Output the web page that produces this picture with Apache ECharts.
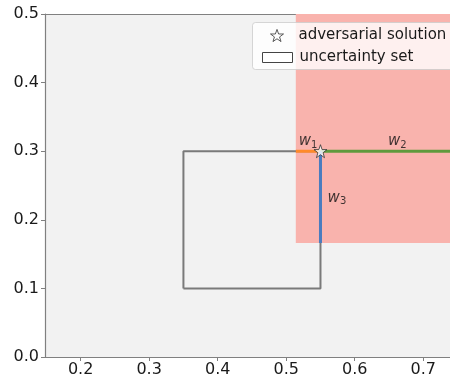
<!DOCTYPE html>
<html>
<head>
<meta charset="utf-8">
<script src="https://cdn.jsdelivr.net/npm/echarts@6/dist/echarts.min.js"></script>
<style>
  html, body { margin: 0; padding: 0; background: #fff; }
  #chart { width: 450px; height: 378px; }
</style>
</head>
<body>
<div id="chart"></div>
<script>
// Axis ranges and ticks
const xRange = [0.148, 0.739];
const yRange = [0.0, 0.5];
const xTicks = [0.2, 0.3, 0.4, 0.5, 0.6, 0.7];
const yTicks = [0.0, 0.1, 0.2, 0.3, 0.4, 0.5];

// Feasible (shaded) region: [xMin, yMin] -> [xMax, yMax]
const regionLow = [0.514, 0.166];
const regionHigh = [0.75, 0.5];

// Uncertainty set (box corners, closed loop)
const boxX = [0.35, 0.55, 0.55, 0.35, 0.35];
const boxY = [0.1, 0.1, 0.3, 0.3, 0.1];

// Adversarial solution
const solution = [0.55, 0.3];

// Segments w1, w2, w3
const w1X = [0.514, 0.55], w1Y = [0.3, 0.3];
const w2X = [0.55, 0.75],  w2Y = [0.3, 0.3];
const w3X = [0.55, 0.55],  w3Y = [0.166, 0.3];

// Segment labels: name, subscript, position
const segLabels = ['w', 'w', 'w'];
const segSubs = ['1', '2', '3'];
const segLabelX = [0.532, 0.662, 0.574];
const segLabelY = [0.314, 0.314, 0.232];

const zip = (xs, ys) => xs.map((x, i) => [x, ys[i]]);

const STAR = 'path://M50,2 L61.8,35.5 L97.6,35.5 L68.9,57 L79.4,91 L50,70.5 L20.6,91 L31.1,57 L2.4,35.5 L38.2,35.5 Z';

const font = 'DejaVu Sans';
const spine = '#808080';

const chart = echarts.init(document.getElementById('chart'), null, { renderer: 'canvas' });

chart.setOption({
  animation: false,
  backgroundColor: '#ffffff',
  grid: {
    left: 45, right: 0, top: 14, bottom: 21,
    show: true, backgroundColor: '#f2f2f2', borderWidth: 0
  },
  xAxis: [{
    type: 'value', min: xRange[0], max: xRange[1],
    splitLine: { show: false },
    axisLine: { show: true, onZero: false, lineStyle: { color: spine, width: 1.2 } },
    axisLabel: {
      margin: 5, color: '#1a1a1a', fontFamily: font, fontSize: 16,
      customValues: xTicks, formatter: v => v.toFixed(1)
    },
    axisTick: { show: true, length: 4, lineStyle: { color: spine }, customValues: xTicks }
  }, {
    type: 'value', position: 'top', min: xRange[0], max: xRange[1],
    splitLine: { show: false },
    axisLine: { show: true, onZero: false, lineStyle: { color: spine, width: 1.2 } },
    axisTick: { show: false }, axisLabel: { show: false }
  }],
  yAxis: {
    type: 'value', min: yRange[0], max: yRange[1], interval: 0.1,
    splitLine: { show: false },
    axisLine: { show: true, onZero: false, lineStyle: { color: spine, width: 1.2 } },
    axisTick: { show: true, length: 4, lineStyle: { color: spine } },
    axisLabel: {
      margin: 6, color: '#1a1a1a', fontFamily: font, fontSize: 16,
      customValues: yTicks, formatter: v => v.toFixed(1)
    }
  },
  graphic: [{
    type: 'rect', left: 252, top: 22, z: 50,
    shape: { width: 210, height: 47, r: 3 },
    style: { fill: 'rgba(255,255,255,0.8)', stroke: 'rgba(204,204,204,0.8)', lineWidth: 1 }
  }],
  legend: [{
    data: [{ name: 'adversarial solution', icon: STAR,
             itemStyle: { color: '#ffffff', borderColor: '#333', borderWidth: 1 } }],
    left: 265, top: 23, itemWidth: 13, itemHeight: 13, z: 60,
    textStyle: { fontFamily: font, fontSize: 15, color: '#1a1a1a', padding: [0, 0, 0, 10] }
  }, {
    data: [{ name: 'uncertainty set', icon: 'rect',
             itemStyle: { color: '#ffffff', borderColor: '#444', borderWidth: 1 } }],
    left: 257, top: 45, itemWidth: 30, itemHeight: 10, z: 60,
    textStyle: { fontFamily: font, fontSize: 15, color: '#1a1a1a', padding: [0, 0, 0, 2] }
  }],
  series: [
    {
      // shaded region
      type: 'line', data: [], silent: true,
      markArea: {
        silent: true,
        itemStyle: { color: '#f9b3ad' },
        data: [[{ coord: regionLow }, { coord: regionHigh }]]
      }
    },
    {
      name: 'uncertainty set', type: 'line', data: zip(boxX, boxY),
      showSymbol: false, lineStyle: { color: '#7a7a7a', width: 2 }, z: 3
    },
    {
      type: 'line', data: zip(w1X, w1Y), showSymbol: false,
      lineStyle: { color: '#ff8a2a', width: 3 }, z: 4
    },
    {
      type: 'line', data: zip(w2X, w2Y), showSymbol: false,
      lineStyle: { color: '#5f9a3c', width: 3 }, z: 4
    },
    {
      type: 'line', data: zip(w3X, w3Y), showSymbol: false,
      lineStyle: { color: '#4a7cbf', width: 3 }, z: 4
    },
    {
      type: 'scatter', z: 5, silent: true,
      data: segLabelX.map((x, i) => ({ value: [x, segLabelY[i]], sub: segSubs[i], txt: segLabels[i] })),
      symbolSize: 0,
      label: {
        show: true, position: 'inside',
        formatter: p => '{w|' + p.data.txt + '}{s|' + p.data.sub + '}',
        rich: {
          w: { fontFamily: font, fontStyle: 'italic', fontSize: 15, color: '#111' },
          s: { fontFamily: font, fontSize: 10, color: '#111', padding: [7, 0, 0, 0] }
        }
      }
    },
    {
      name: 'adversarial solution', type: 'scatter', z: 6,
      data: [solution], symbol: STAR, symbolSize: 13,
      itemStyle: { color: '#ffffff', borderColor: '#333', borderWidth: 1 }
    }
  ]
});
</script>
</body>
</html>
